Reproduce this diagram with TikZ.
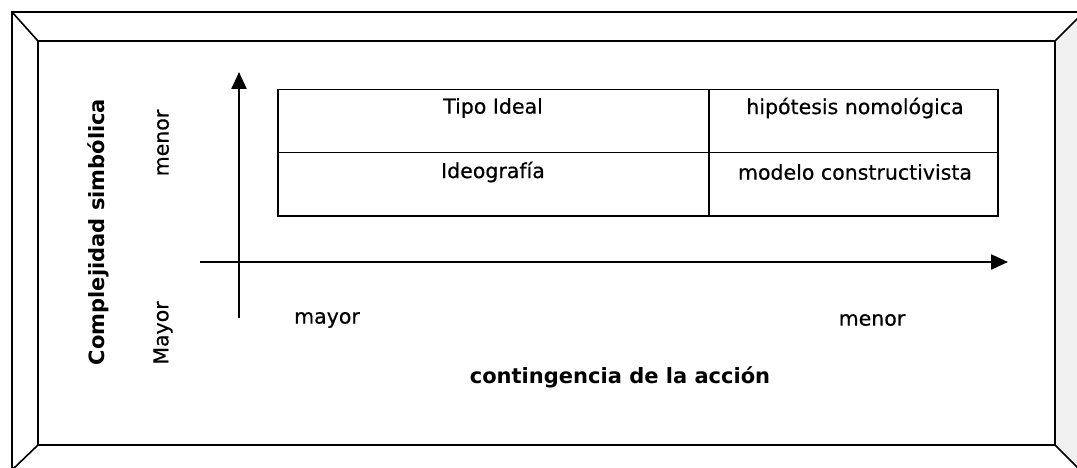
\documentclass[tikz,border=0pt]{standalone}
\usepackage{fontspec}
\setmainfont{DejaVu Sans}
\newfontfamily\heavyreg{DejaVu Sans}[FakeBold=0.5]
\usetikzlibrary{arrows.meta}
\begin{document}
\begin{tikzpicture}[x=1pt,y=-1pt,
  frame/.style={line width=1.6pt},
  innerframe/.style={line width=2.2pt},
  axis/.style={line width=2.4pt,-{Triangle[length=17pt,width=15pt]}},
  cell/.style={draw,line width=1.5pt,minimum height=63pt,inner sep=0pt,anchor=north west},
  lbl/.style={font=\heavyreg\fontsize{20.5}{24}\selectfont,inner sep=0pt},
  blbl/.style={font=\fontsize{21}{24}\selectfont\bfseries,inner sep=0pt}]
\useasboundingbox (0,0) rectangle (1077,468);
% picture frame
\fill[gray!12] (1055,41) -- (1085,11) -- (1085,475) -- (1055,445) -- cycle;
\draw[frame] (12,12) rectangle (1085,475);
\draw[innerframe] (38,41) rectangle (1055,445);
\draw[frame] (12,12) -- (38,41);
\draw[frame] (12,470) -- (38,445);
\draw[frame] (1055,41) -- (1085,11);
\draw[frame] (1055,445) -- (1080,470);
% table
\node[cell,minimum width=431pt] (c11) at (277,89) {};
\node[cell,minimum width=289pt] (c12) at (708,89) {};
\node[cell,minimum width=431pt] (c21) at (277,152) {};
\node[cell,minimum width=289pt] (c22) at (708,152) {};
\node[lbl] (t11) at (493,108) {Tipo Ideal};
\node[lbl] (t12) at (855,108) {hipótesis nomológica};
\node[lbl] (t21) at (493,172) {Ideografía};
\node[lbl] (t22) at (855,172) {modelo constructivista};
% axes
\coordinate (vb) at (239,318);
\coordinate (vt) at (239,72);
\coordinate (hl) at (200,262);
\coordinate (hr) at (1008,262);
\draw[axis] (vb) -- (vt);
\draw[axis] (hl) -- (hr);
% axis labels
\node[blbl,rotate=90] (ylab) at (98,232) {Complejidad simbólica};
\node[lbl,rotate=90] (ymenor) at (163,143) {menor};
\node[lbl,rotate=90] (ymayor) at (163,333) {Mayor};
\node[lbl] (xmayor) at (327,320) {mayor};
\node[lbl] (xmenor) at (872,320) {menor};
\node[blbl] (xlab) at (620,377) {contingencia de la acción};
\end{tikzpicture}
\end{document}
